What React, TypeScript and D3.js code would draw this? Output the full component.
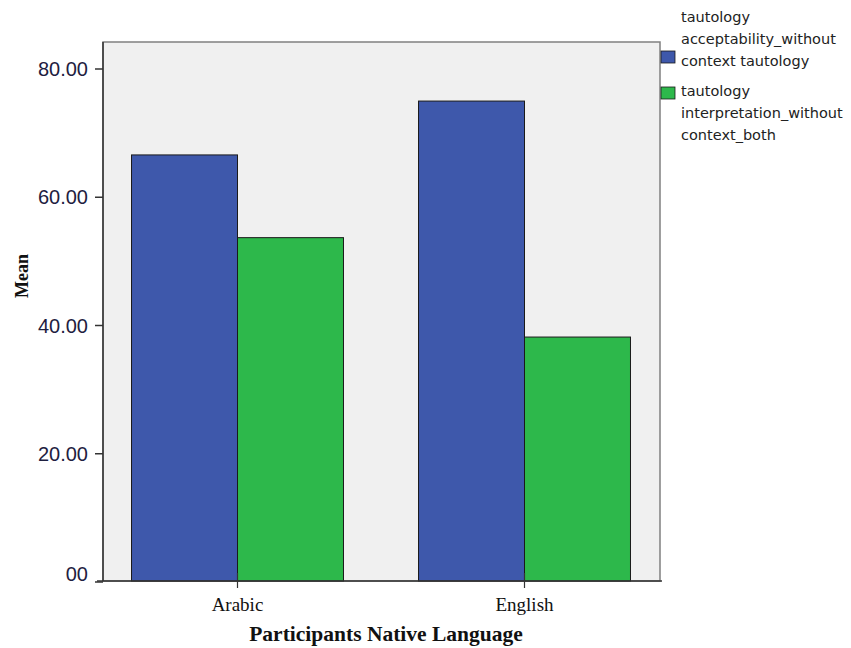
import React from "react";
import * as d3 from "d3";

const categories = ["Arabic", "English"];
const seriesNames = ["acceptability", "interpretation"];
const acceptabilityValues = [66.6, 75.0];
const interpretationValues = [53.7, 38.2];
const seriesColors = ["#3E58AB", "#2DB84B"];
const yTicks = [0, 20, 40, 60, 80];
const yTickLabels = ["00", "20.00", "40.00", "60.00", "80.00"];
const legendLines = [
  ["tautology", "acceptability_without", "context tautology"],
  ["tautology", "interpretation_without", "context_both"],
];

const W = 851;
const H = 648;
const plotLeft = 103;
const plotRight = 660;
const plotTop = 42;
const plotBottom = 581;

export default function App() {
  const y = d3.scaleLinear().domain([0, 80]).range([582, 69]);
  const x = d3.scaleBand<string>().domain(categories).range([94, 668]).padding(0);
  const xInner = d3
    .scaleBand<string>()
    .domain(seriesNames)
    .range([0, x.bandwidth()])
    .paddingInner(0)
    .paddingOuter(0.354);

  const seriesValues = [acceptabilityValues, interpretationValues];

  return (
    <svg
      width={W}
      height={H}
      style={{ position: "absolute", left: 0, top: 0, background: "#fff" }}
    >
      {/* plot background */}
      <rect
        x={plotLeft}
        y={plotTop}
        width={plotRight - plotLeft}
        height={plotBottom - plotTop}
        fill="#F0F0F0"
        stroke="#808080"
        strokeWidth={1.5}
      />
      {/* bars */}
      {categories.map((c, ci) =>
        seriesNames.map((s, si) => {
          const v = seriesValues[si][ci];
          const bx = (x(c) as number) + (xInner(s) as number);
          const by = y(v);
          return (
            <rect
              key={c + s}
              x={bx}
              y={by}
              width={xInner.bandwidth()}
              height={plotBottom - by}
              fill={seriesColors[si]}
              stroke="#1a1a1a"
              strokeWidth={1}
            />
          );
        })
      )}
      {/* y axis */}
      <line x1={plotLeft} x2={plotLeft} y1={plotTop} y2={plotBottom} stroke="#333" strokeWidth={1.5} />
      {yTicks.map((t, i) => (
        <g key={t}>
          <line x1={95} x2={plotLeft} y1={y(t)} y2={y(t)} stroke="#333" strokeWidth={1.5} />
          <text
            x={88}
            y={t === 0 ? y(t) - 8 : y(t)}
            dy="0.36em"
            textAnchor="end"
            fontFamily="'Liberation Sans', Arial, sans-serif"
            fontSize={20}
            fill="#1e2040"
          >
            {yTickLabels[i]}
          </text>
        </g>
      ))}
      {/* x axis */}
      <line x1={97} x2={plotRight + 2} y1={plotBottom} y2={plotBottom} stroke="#333" strokeWidth={1.5} />
      {categories.map((c) => {
        const cx = (x(c) as number) + x.bandwidth() / 2;
        return (
          <g key={c}>
            <line x1={cx} x2={cx} y1={plotBottom - 8} y2={plotBottom + 7} stroke="#333" strokeWidth={1.2} />
            <text
              x={cx}
              y={611}
              textAnchor="middle"
              fontFamily="'Liberation Serif', 'Times New Roman', serif"
              fontSize={19}
              fill="#111"
            >
              {c}
            </text>
          </g>
        );
      })}
      {/* axis titles */}
      <text
        x={386}
        y={641}
        textAnchor="middle"
        fontFamily="'Liberation Serif', 'Times New Roman', serif"
        fontWeight="bold"
        fontSize={21.5}
        fill="#111"
      >
        Participants Native Language
      </text>
      <text
        transform="translate(28,276) rotate(-90)"
        textAnchor="middle"
        fontFamily="'Liberation Serif', 'Times New Roman', serif"
        fontWeight="bold"
        fontSize={18}
        fill="#111"
      >
        Mean
      </text>
      {/* legend */}
      {legendLines.map((lines, li) => {
        const baseY = li === 0 ? 22 : 96;
        const swY = li === 0 ? 51 : 87;
        return (
          <g key={li}>
            <rect x={661} y={swY} width={14} height={12} fill={seriesColors[li]} stroke="#1a1a1a" strokeWidth={0.8} />
            {lines.map((t, k) => (
              <text
                key={k}
                x={681}
                y={baseY + k * 22}
                fontFamily="'DejaVu Sans', sans-serif"
                fontSize={14.5}
                fill="#222"
              >
                {t}
              </text>
            ))}
          </g>
        );
      })}
    </svg>
  );
}
